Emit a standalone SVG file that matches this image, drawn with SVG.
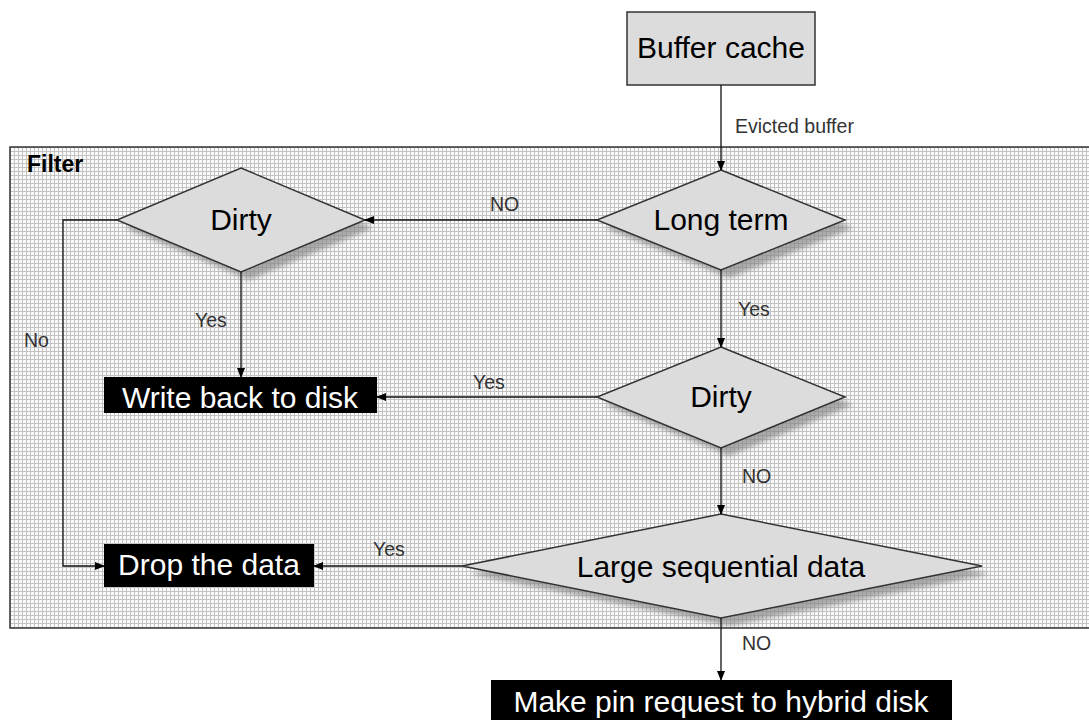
<svg xmlns="http://www.w3.org/2000/svg" width="1089" height="720" viewBox="0 0 1089 720">
<style>
.node{fill:#dcdcdc;stroke:#333;stroke-width:1.5}
.big{font-family:"Liberation Sans",Arial,sans-serif;font-size:30px;fill:#000;text-anchor:middle}
.white{font-family:"Liberation Sans",Arial,sans-serif;font-size:30px;fill:#fff;text-anchor:middle}
.lbl{font-family:"Liberation Sans",Arial,sans-serif;font-size:19.5px;fill:#333}
.conn{fill:none;stroke:#111;stroke-width:1.3}
.blk{fill:#000}
.shadow{fill:#888;opacity:0.7;filter:url(#blur)}
</style>
<defs>
<pattern id="grid" x="10" y="147" width="4" height="4" patternUnits="userSpaceOnUse">
<rect width="4" height="4" fill="#fbfbfb"/>
<path d="M0 0.5H4M0.5 0V4" stroke="#c2c2c2" stroke-width="1"/>
</pattern>
<filter id="blur" x="-10%" y="-20%" width="120%" height="140%"><feGaussianBlur stdDeviation="2.5"/></filter>
<marker id="arr" markerWidth="10" markerHeight="8" refX="9" refY="4" orient="auto" markerUnits="userSpaceOnUse">
<path d="M0,0 L10,4 L0,8 Z" fill="#000"/>
</marker>
</defs>
<rect width="1089" height="720" fill="#fff"/>
<g id="filter">
<rect x="10" y="147" width="1090" height="481" fill="url(#grid)" stroke="#333" stroke-width="1.5"/>
<text x="27" y="172" font-family="Liberation Sans,Arial,sans-serif" font-size="23" font-weight="bold">Filter</text>
</g>
<g id="buffer-cache">
<rect x="627" y="12" width="188" height="73" class="node"/>
<text x="721" y="58" class="big">Buffer cache</text>
</g>
<g id="dirty1">
<polygon points="249,176 373,228 249,280 125,228" class="shadow"/>
<polygon points="241,168 365,220 241,272 117,220" class="node"/>
<text x="241" y="230" class="big">Dirty</text>
</g>
<g id="long-term">
<polygon points="729,178 853,228 729,278 605,228" class="shadow"/>
<polygon points="721,170 845,220 721,270 597,220" class="node"/>
<text x="721" y="230" class="big">Long term</text>
</g>
<g id="dirty2">
<polygon points="729,355 853,405 729,456 605,405" class="shadow"/>
<polygon points="721,347 845,397 721,448 597,397" class="node"/>
<text x="721" y="407" class="big">Dirty</text>
</g>
<g id="large-seq">
<polygon points="729,522 990,574 729,626 470,574" class="shadow"/>
<polygon points="721,514 982,566 721,618 462,566" class="node"/>
<text x="721" y="577" class="big">Large sequential data</text>
</g>
<g id="write-back">
<rect x="104" y="377" width="273" height="36" class="blk"/>
<text x="240" y="408" class="white">Write back to disk</text>
</g>
<g id="drop-data">
<rect x="104" y="544" width="210" height="43" class="blk"/>
<text x="209" y="575" class="white">Drop the data</text>
</g>
<g id="pin-request">
<rect x="491" y="680" width="461" height="45" class="blk"/>
<text x="721" y="712" class="white">Make pin request to hybrid disk</text>
</g>
<g id="connectors">
<path d="M721 85V170" class="conn" marker-end="url(#arr)"/>
<path d="M597 220H365" class="conn" marker-end="url(#arr)"/>
<path d="M721 270V347" class="conn" marker-end="url(#arr)"/>
<path d="M241 272V377" class="conn" marker-end="url(#arr)"/>
<path d="M597 397H377" class="conn" marker-end="url(#arr)"/>
<path d="M721 448V514" class="conn" marker-end="url(#arr)"/>
<path d="M462 566H314" class="conn" marker-end="url(#arr)"/>
<path d="M117 220H63V566H104" class="conn" marker-end="url(#arr)"/>
<path d="M721 618V680" class="conn" marker-end="url(#arr)"/>
<text x="735" y="133" class="lbl">Evicted buffer</text>
<text x="490" y="211" class="lbl">NO</text>
<text x="738" y="316" class="lbl">Yes</text>
<text x="195" y="327" class="lbl">Yes</text>
<text x="24" y="347" class="lbl">No</text>
<text x="473" y="389" class="lbl">Yes</text>
<text x="742" y="483" class="lbl">NO</text>
<text x="373" y="556" class="lbl">Yes</text>
<text x="742" y="650" class="lbl">NO</text>
</g>
</svg>
